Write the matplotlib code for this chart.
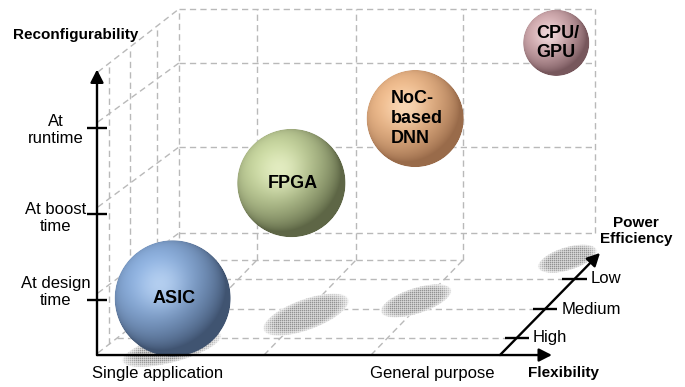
import numpy as np
import matplotlib
matplotlib.use("Agg")
import matplotlib.pyplot as plt
from matplotlib.patches import FancyArrowPatch
from matplotlib.colors import to_rgb

plt.rcParams['font.family'] = ['Liberation Sans', 'DejaVu Sans']

# ---------------- chart content ----------------
platforms = ["ASIC", "FPGA", "NoC-\nbased\nDNN", "CPU/\nGPU"]
# projected bubble centre (flexibility, reconfigurability) and radius
platform_flex = [0.88, 2.26, 3.70, 5.34]
platform_reconf = [1.02, 2.36, 3.11, 3.99]
platform_radius = [0.675, 0.630, 0.565, 0.385]

# footprint of each platform on the power-efficiency floor
footprint_flex = [0.87, 2.43, 3.71, 5.47]
footprint_depth = [0.44, 0.83, 0.99, 1.48]
footprint_width = [1.22, 1.08, 0.88, 0.73]
footprint_height = [0.34, 0.37, 0.31, 0.28]
footprint_angle = [15, 20, 18, 17]

platform_base = ["#8fb3e2", "#cbdaa2", "#f2be8f", "#d9b3b7"]
platform_light = ["#c4dbf7", "#eef5cf", "#fde2c4", "#f7e6e8"]
platform_dark = ["#1f2c42", "#30361f", "#74482d", "#4e3036"]

reconf_levels = [1, 2, 3]
reconf_labels = ["At design\ntime", "At boost\ntime", "At\nruntime"]
reconf_label_shift = [0.09, -0.05, -0.02]

power_levels = [0.167, 0.451, 0.745]      # fraction along the depth axis
power_labels = ["High", "Medium", "Low"]

flex_labels = ["Single application", "General purpose"]
flex_label_pos = [0.70, 3.90]

# ---------------- geometry of the axes ----------------
FLOOR = 0.36
V_TOP = 3.68
H_END = 5.29
D_START = (4.686, FLOOR)
D_END = (5.849, 1.547)

PPU = 86.0                       # pixels per unit
W, H = 685, 387
XL = (-97 / PPU, (W - 97) / PPU)
YL = ((386 - H) / PPU, 386 / PPU)

fig = plt.figure(figsize=(W / 100, H / 100), dpi=100)
ax = fig.add_axes([0, 0, 1, 1])          # wireframe layer
ax_top = fig.add_axes([0, 0, 1, 1])      # axes, ticks and text layer
for a in (ax, ax_top):
    a.set_xlim(*XL)
    a.set_ylim(*YL)
    a.axis("off")
ax.set_zorder(0)
ax_top.set_zorder(2)
ax_top.patch.set_visible(False)

# ---------------- dashed wireframe ----------------
grid_kw = dict(color="#b9b9b9", lw=1.0, ls=(0, (4.5, 3.0)), zorder=1)


def seg(x0, y0, x1, y1):
    ax.plot([x0, x1], [y0, y1], **grid_kw)


back_x = [0.953, 1.860, 3.012, 4.256, 5.791]
back_y = [1.779, 2.779, 3.756, 4.384]
floor_back = 1.465
for y in back_y:
    seg(back_x[0], y, back_x[-1], y)
seg(back_x[0], 1.116, back_x[0], back_y[-1])
seg(back_x[-1], back_y[0], back_x[-1], back_y[-1])
for x in back_x[1:-1]:
    seg(x, floor_back, x, back_y[-1])
seg(back_x[0], floor_back, back_x[3], floor_back)

# left wall
wall_front = [3.651, 3.070, 2.081, 1.081, 0.384]
wall_back = [4.384, 3.756, 2.779, 1.779, 1.116]
for yf, yb in zip(wall_front, wall_back):
    seg(0.01, yf, back_x[0], yb)
wall_slope = 0.777
for x in [0.140, 0.384, 0.698]:
    seg(x, 0.384 + (x - 0.01) * wall_slope, x, 3.651 + (x - 0.01) * wall_slope)

# floor
dvx, dvy = D_END[0] - D_START[0], D_END[1] - D_START[1]
tick_half = 0.14
for t in power_levels:
    cy = FLOOR + t * dvy
    cx = D_START[0] + t * dvx
    xl = 0.01 + (cy - 0.384) / wall_slope
    seg(xl, cy, cx - tick_half, cy)
for x in back_x[1:4]:
    seg(x - 1.07, FLOOR, x, floor_back)

# ---------------- shadows and spheres (one raster layer) ----------------
jj, ii = np.meshgrid(np.arange(W), np.arange(H))
X = XL[0] + (jj + 0.5) / PPU
Y = YL[1] - (ii + 0.5) / PPU
rgb = np.ones((H, W, 3))
alpha = np.zeros((H, W))

stipple = 0.55 + 0.45 * ((ii % 2 == 0) & (jj % 2 == 0)) - 0.2 * ((ii % 2 == 1) & (jj % 2 == 1))
dot = np.array(to_rgb("#6e6e6e"))
for cx, cy, w, h, ang in zip(footprint_flex, footprint_depth, footprint_width,
                             footprint_height, footprint_angle):
    th = np.deg2rad(ang)
    dx, dy = X - cx, Y - cy
    u = dx * np.cos(th) + dy * np.sin(th)
    v = -dx * np.sin(th) + dy * np.cos(th)
    d = np.sqrt((u / (w / 2)) ** 2 + (v / (h / 2)) ** 2)
    cover = np.clip((1 - d) / 0.05, 0, 1)
    dens = np.clip((1 - d) / 0.3, 0, 1) ** 0.6
    k = np.clip(stipple * dens * 0.75, 0, 1)[..., None]
    col = (1 - k) + k * dot
    c = cover[..., None]
    rgb = rgb * (1 - c) + col * c
    alpha = alpha * (1 - cover) + cover

L = np.array([-0.4, 0.45, 0.8])
L = L / np.linalg.norm(L)
Hv = L + np.array([0, 0, 1.0])
Hv = Hv / np.linalg.norm(Hv)
for cx, cy, r, base, light, dark in zip(platform_flex, platform_reconf, platform_radius,
                                        platform_base, platform_light, platform_dark):
    nx = (X - cx) / r
    ny = (Y - cy) / r
    rho = np.sqrt(nx ** 2 + ny ** 2)
    cover = np.clip((1 - rho) * r * PPU + 0.5, 0, 1)
    nz = np.sqrt(np.clip(1 - rho ** 2, 0, 1))
    diff = np.clip(nx * L[0] + ny * L[1] + nz * L[2], 0, 1)
    diff = 0.22 + 0.78 * diff
    spec = np.clip(nx * Hv[0] + ny * Hv[1] + nz * Hv[2], 0, 1) ** 12
    b, lt, dk = (np.array(to_rgb(c)) for c in (base, light, dark))
    col = dk + (b - dk) * (diff ** 0.8)[..., None]
    col = col + (lt - col) * (0.7 * spec)[..., None]
    c = cover[..., None]
    rgb = rgb * (1 - c) + col * c
    alpha = alpha * (1 - cover) + cover

fig.figimage(np.dstack([rgb, alpha]), xo=0, yo=0, origin="upper", zorder=1)

for name, cx, cy in zip(platforms, platform_flex, platform_reconf):
    ax_top.text(cx + 0.02, cy, name, ha="center", va="center", ma="left",
                fontsize=13, fontweight="bold", linespacing=1.2, zorder=5)

# ---------------- axes ----------------
axis_kw = dict(arrowstyle="-|>,head_length=0.55,head_width=0.28", mutation_scale=14,
               lw=1.7, color="black", shrinkA=0, shrinkB=0, zorder=4)
ax_top.add_patch(FancyArrowPatch((0, FLOOR), (0, V_TOP), **axis_kw))
ax_top.add_patch(FancyArrowPatch((0, FLOOR), (H_END, FLOOR), **axis_kw))
ax_top.add_patch(FancyArrowPatch(D_START, D_END, **axis_kw))

for lvl, lab, sh in zip(reconf_levels, reconf_labels, reconf_label_shift):
    ax_top.plot([-0.12, 0.12], [lvl, lvl], color="black", lw=1.7, zorder=4,
                solid_capstyle="butt")
    ax_top.text(-0.48, lvl + sh, lab, ha="center", va="center", fontsize=12,
                linespacing=1.15, zorder=5)

for t, lab in zip(power_levels, power_labels):
    cx = D_START[0] + t * dvx
    cy = FLOOR + t * dvy
    ax_top.plot([cx - tick_half, cx + tick_half], [cy, cy], color="black", lw=1.7,
                zorder=4, solid_capstyle="butt")
    ax_top.text(cx + tick_half + 0.05, cy, lab, ha="left", va="center",
                fontsize=12, zorder=5)

for lab, x in zip(flex_labels, flex_label_pos):
    ax_top.text(x, 0.15, lab, ha="center", va="center", fontsize=12, zorder=5)

ax_top.text(5.42, 0.15, "Flexibility", ha="center", va="center", fontsize=11,
            fontweight="bold", zorder=5)
ax_top.text(6.27, 1.80, "Power\nEfficiency", ha="center", va="center", fontsize=11,
            fontweight="bold", linespacing=1.2, zorder=5)
ax_top.text(-0.245, 4.08, "Reconfigurability", ha="center", va="center",
            fontsize=11, fontweight="bold", zorder=5)

fig.savefig("out.png", dpi=100)
